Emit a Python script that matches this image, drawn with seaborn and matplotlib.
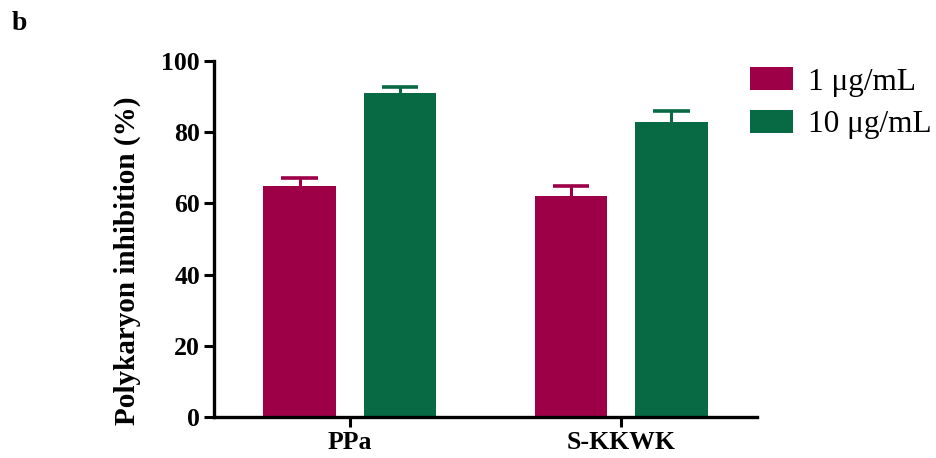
import numpy as np
import pandas as pd
import seaborn as sns
import matplotlib.pyplot as plt

compounds = ["PPa", "S-KKWK"]
concentrations = ["1 \u03bcg/mL", "10 \u03bcg/mL"]
means_1 = [65, 62]
means_10 = [91, 83]
err_1 = [2, 3]
err_10 = [1.8, 3]
colors = ["#9E0047", "#076A45"]

df = pd.DataFrame({
    "compound": compounds * 2,
    "conc": [concentrations[0]] * 2 + [concentrations[1]] * 2,
    "value": means_1 + means_10,
})
errs = [err_1, err_10]

sns.set_style("ticks")
plt.rcParams["font.family"] = ["Liberation Serif", "DejaVu Serif"]
plt.rcParams["text.color"] = "black"
plt.rcParams["axes.labelcolor"] = "black"
plt.rcParams["xtick.color"] = "black"
plt.rcParams["ytick.color"] = "black"

fig = plt.figure(figsize=(9.36, 4.58), dpi=100)
ax = fig.add_axes([214 / 936, 41 / 458, (757 - 214) / 936, (417 - 61) / 458])

sns.barplot(data=df, x="compound", y="value", hue="conc", palette=colors,
            width=0.74, gap=0.28, errorbar=None, saturation=1, linewidth=0,
            ax=ax, legend=True)

# upper-only error bars, same colour as bars
for cont, e, c in zip(ax.containers, errs, colors):
    for b, ei in zip(cont, e):
        xc = b.get_x() + b.get_width() / 2
        top = b.get_height()
        hw = b.get_width() * 0.25
        ax.vlines(xc, top, top + ei, color=c, linewidth=2.2, zorder=0.5)
        ax.hlines(top + ei, xc - hw, xc + hw, color=c, linewidth=2.6, zorder=0.5)

ax.set_xlim(-0.5, 1.5)
ax.set_ylim(0, 100)
ax.set_yticks([0, 20, 40, 60, 80, 100])
ax.set_xlabel("")
ax.set_ylabel("Polykaryon inhibition (%)", fontsize=21, fontweight="bold")
ax.yaxis.set_label_coords(-0.135, 0.44)
for lab in ax.get_xticklabels() + ax.get_yticklabels():
    lab.set_fontweight("bold")
    lab.set_fontsize(18.5)
ax.tick_params(axis="both", width=2.2, length=7, color="black", pad=3)
for s in ["left", "bottom"]:
    ax.spines[s].set_linewidth(2.4)
    ax.spines[s].set_color("black")
sns.despine(ax=ax)

handles, labels = ax.get_legend_handles_labels()
ax.legend_.remove()
fig.legend(handles, labels, loc="upper left", bbox_to_anchor=(750 / 936, 1 - 67 / 458),
           frameon=False, fontsize=22.5, handlelength=1.38, handleheight=0.77,
           labelspacing=0.42, handletextpad=0.48, borderaxespad=0, borderpad=0)

fig.text(12 / 936, 1 - 23 / 458, "b", fontsize=20, fontweight="bold", va="center")

fig.savefig("out.png", dpi=100)
